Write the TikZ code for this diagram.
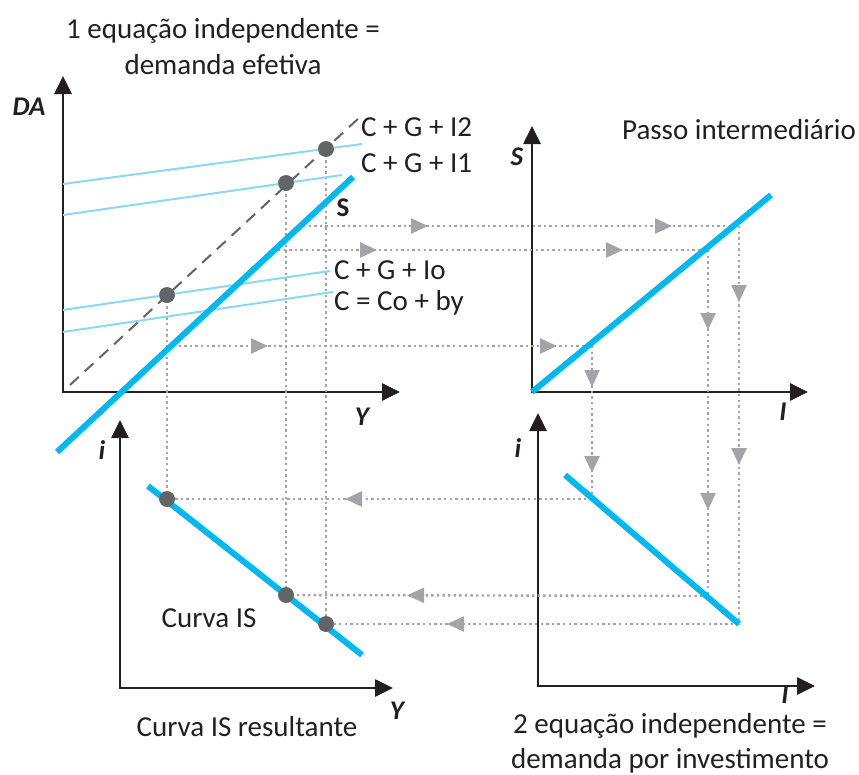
\documentclass[tikz,border=0pt]{standalone}
\usepackage{fontspec}
\setmainfont{Carlito}
\usetikzlibrary{arrows.meta,positioning,decorations.markings}
\definecolor{axisblack}{RGB}{35,31,32}
\definecolor{scyan}{RGB}{0,185,240}
\definecolor{lightcyan}{RGB}{140,214,246}
\definecolor{dotgray}{RGB}{99,100,102}
\definecolor{guidegray}{RGB}{163,164,168}
\tikzset{
	axistip/.tip={Triangle[length=18pt,width=17pt]},
	guidetip/.tip={Triangle[length=17pt,width=15pt]},
	axis/.style={draw=axisblack,line width=2.7pt,axistip-axistip},
	guide/.style={draw=guidegray,line width=2.4pt,dash pattern=on 2.4pt off 3.2pt},
	onetip/.style={postaction={decorate},
		decoration={markings,mark=at position #1pt with {\arrow[guidegray]{guidetip}}}},
	twotips/.style 2 args={postaction={decorate},
		decoration={markings,
			mark=at position #1pt with {\arrow[guidegray]{guidetip}},
			mark=at position #2pt with {\arrow[guidegray]{guidetip}}}},
	thinline/.style={draw=lightcyan,line width=2pt},
	sline/.style={draw=scyan,line width=6pt},
	fortyfive/.style={draw=dotgray,line width=2pt,dash pattern=on 12pt off 8pt},
	dot/.style={circle,fill=dotgray,inner sep=0pt,minimum size=15.6pt},
	txt/.style={inner sep=0pt,text=axisblack,font=\fontsize{29}{36}\selectfont},
	axlabel/.style={txt,font=\fontsize{27}{30}\selectfont\bfseries\itshape}
}
\begin{document}
\begin{tikzpicture}[x=1pt,y=-1pt]
	\useasboundingbox (0,0) rectangle (859,774);
	
	% Axes
	\draw[axis] (63,76) -- (63,392) -- (400,392);
	\draw[axis] (532,126) -- (532,392) -- (808,392);
	\draw[axis] (120,420) -- (120,688) -- (393,688);
	\draw[axis] (538,413) -- (538,686) -- (815,686);
	
	\node[axlabel] (lda) at (29,107) {DA};
	\node[axlabel] (ly1) at (362,417) {Y};
	\node[axlabel] (ls) at (517,157) {S};
	\node[axlabel] (li1) at (783,412) {I};
	\node[axlabel] (li2) at (102,450) {i};
	\node[axlabel] (ly2) at (397,711) {Y};
	\node[axlabel] (li3) at (518,448) {i};
	\node[axlabel] (li4) at (785,695) {I};
	
	% Points on the curves
	\coordinate (sa) at (303,226);
	\coordinate (sb) at (278,250);
	\coordinate (sc) at (173,346);
	\coordinate (ra) at (739,226);
	\coordinate (rb) at (708,250);
	\coordinate (rc) at (592,346);
	\coordinate (qa) at (739,624);
	\coordinate (qb) at (708,596);
	\coordinate (qc) at (592,499);
	
	\node[dot] (d0) at (167,295) {};
	\node[dot] (d1) at (286,183) {};
	\node[dot] (d2) at (326,149) {};
	\node[dot] (e0) at (167,499) {};
	\node[dot] (e1) at (286,595) {};
	\node[dot] (e2) at (326,624) {};
	
	% Guide lines
	\draw[guide,twotips={125}{369}] (sa) -- (ra);
	\draw[guide,twotips={99}{345}] (sb) -- (rb);
	\draw[guide,twotips={95}{384}] (sc) -- (rc);
	\draw[guide,twotips={41}{127}] (rc) -- (qc);
	\draw[guide,twotips={80}{260}] (rb) -- (qb);
	\draw[guide,twotips={76}{239}] (ra) -- (qa);
	\draw[guide,onetip={247}] (qc) -- (e0.center);
	\draw[guide,onetip={301}] (qb) -- (e1.center);
	\draw[guide,onetip={292}] (qa) -- (e2.center);
	\draw[guide] (d0.center) -- (e0.center);
	\draw[guide] (d1.center) -- (e1.center);
	\draw[guide] (d2.center) -- (e2.center);
	
	% Demand lines
	\draw[thinline] (63,184) -- (362,144);
	\draw[thinline] (63,215) -- (342,175);
	\draw[thinline] (63,310) -- (330,271);
	\draw[thinline] (63,332) -- (333,292);
	\draw[fortyfive] (70,385) -- (360,117);
	
	% S, investment and IS lines
	\draw[sline] (57,452) -- (353,177);
	\draw[sline] (532,392) -- (771,195);
	\draw[sline] (565,475) -- (739,624);
	\draw[sline] (148,486) -- (362,655);
	
	\foreach \p in {d0,d1,d2,e0,e1,e2}
	{
		\node[dot] at (\p) {};
	}
	
	% Texts
	\node[txt,anchor=west] (ci2) at (361,127) {C + G + I2};
	\node[txt,anchor=west] (ci1) at (361,163) {C + G + I1};
	\node[txt,anchor=west] (cio) at (334,270) {C + G + Io};
	\node[txt,anchor=west] (cco) at (334,303) {C = Co + by};
	\node[txt,font=\fontsize{27}{30}\selectfont\bfseries] (lsl) at (343,208) {S};
	\node[txt,align=center] (top1) at (223,47) {1 equação independente =\\demanda efetiva};
	\node[txt] (passo) at (739,130) {Passo intermediário};
	\node[txt] (cis) at (209,618) {Curva IS};
	\node[txt] (cisr) at (247,727) {Curva IS resultante};
	\node[txt,align=center,font=\fontsize{29}{35}\selectfont] (top2) at (670,743) {2 equação independente =\\demanda por investimento};
	
\end{tikzpicture}
\end{document}
